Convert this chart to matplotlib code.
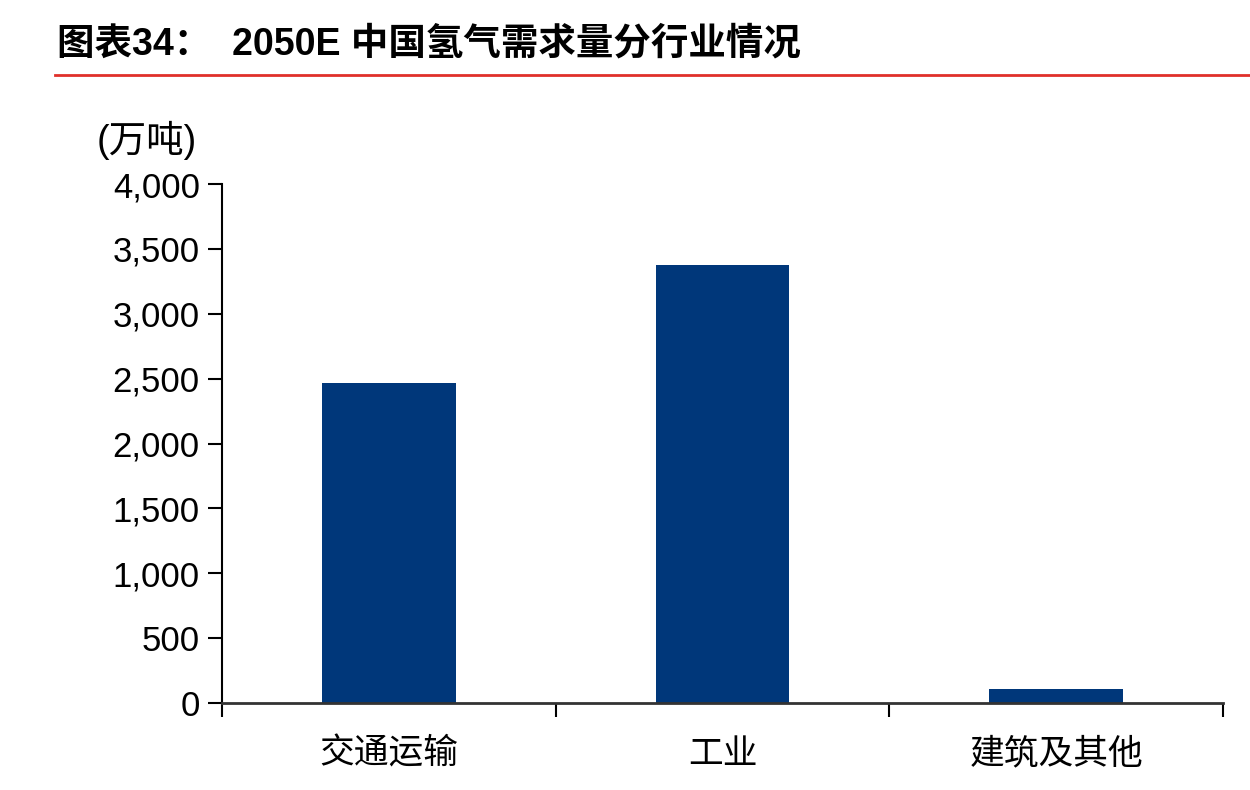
import matplotlib
matplotlib.use("Agg")
import matplotlib.pyplot as plt
from matplotlib.lines import Line2D

categories = ["交通运输", "工业", "建筑及其他"]
values = [2470, 3380, 110]
yticks = [0, 500, 1000, 1500, 2000, 2500, 3000, 3500, 4000]

plt.rcParams['font.family'] = ['Liberation Sans', 'Noto Sans CJK SC', 'DejaVu Sans']

fig = plt.figure(figsize=(12.5, 7.9), dpi=100)
ax = fig.add_axes([0.1776, 0.110, 0.8008, 0.657])

x = list(range(len(categories)))
ax.bar(x, values, width=0.4, color='#00377A', zorder=2)
ax.set_xlim(-0.5, len(categories) - 0.5)
ax.set_ylim(0, 4000)
ax.set_yticks(yticks)
ax.set_yticklabels([f"{v:,}" for v in yticks], fontsize=25, family=['Liberation Sans'])
ax.set_xticks([i - 0.5 for i in range(len(categories) + 1)])
ax.set_xticklabels([])
ax.tick_params(axis='y', direction='out', length=10, width=1.5, pad=6)
ax.tick_params(axis='x', direction='out', length=10, width=1.5)
for i, c in enumerate(categories):
    ax.text(i, -0.065, c, transform=ax.get_xaxis_transform(), ha='center', va='top',
            fontsize=25, family=['Noto Sans CJK SC'])
for s in ['top', 'right']:
    ax.spines[s].set_visible(False)
ax.spines['left'].set_linewidth(1.5)
ax.spines['bottom'].set_linewidth(2)
ax.spines['bottom'].set_color('#333333')

fig.text(97 / 1250, 1 - 140 / 790, "(万吨)", fontsize=27, ha='left', va='center',
         family=['Liberation Sans', 'Noto Sans CJK SC'])

fig.text(57 / 1250, 1 - 45 / 790, "图表34：  2050E 中国氢气需求量分行业情况", fontsize=27,
         fontweight='bold', ha='left', va='center',
         family=['Liberation Sans', 'Noto Sans CJK SC'])
fig.add_artist(Line2D([55 / 1250, 1.0], [1 - 75 / 790, 1 - 75 / 790], color='#E0302A',
                      linewidth=2, transform=fig.transFigure))

fig.savefig("out.png", dpi=100)
